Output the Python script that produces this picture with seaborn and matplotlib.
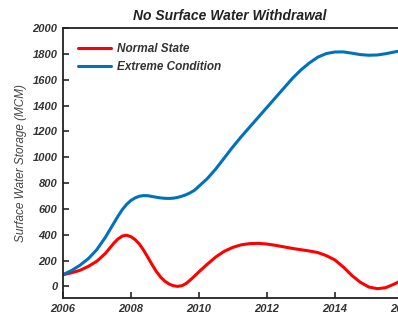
import matplotlib
matplotlib.use("Agg")
import matplotlib.pyplot as plt
import seaborn as sns
import pandas as pd

years = [2006.0, 2006.25, 2006.5, 2006.75, 2007.0, 2007.25, 2007.5, 2007.625, 2007.75, 2007.875,
         2008.0, 2008.125, 2008.25, 2008.375, 2008.5, 2008.625, 2008.75, 2008.875, 2009.0,
         2009.125, 2009.25, 2009.375, 2009.5, 2009.625, 2009.75, 2009.875, 2010.0, 2010.25,
         2010.5, 2010.75, 2011.0, 2011.25, 2011.5, 2011.75, 2012.0, 2012.25, 2012.5, 2012.75,
         2013.0, 2013.25, 2013.5, 2013.75, 2014.0, 2014.25, 2014.5, 2014.75, 2015.0, 2015.25,
         2015.5, 2015.75, 2016.0]
normal_state = [90, 105, 124, 155, 195, 255, 335, 368, 390, 396,
                385, 362, 328, 280, 225, 168, 115, 72, 40,
                18, 5, 0, 5, 22, 50, 80, 112, 172,
                228, 272, 302, 322, 331, 333, 328, 318, 306, 294,
                284, 274, 262, 238, 205, 150, 85, 32, -5, -18,
                -10, 18, 50]
extreme_condition = [90, 122, 163, 215, 285, 380, 490, 545, 595, 635,
                     665, 685, 698, 703, 702, 696, 690, 685, 682,
                     681, 683, 689, 698, 710, 725, 745, 775, 835,
                     910, 995, 1080, 1160, 1235, 1310, 1385, 1460, 1535, 1610,
                     1675, 1730, 1775, 1803, 1815, 1816, 1806, 1795, 1790, 1792,
                     1802, 1815, 1828]
xticks = [2006, 2008, 2010, 2012, 2014, 2016]
yticks = [0, 200, 400, 600, 800, 1000, 1200, 1400, 1600, 1800, 2000]

df = pd.DataFrame({
    "Year": years * 2,
    "Storage": normal_state + extreme_condition,
    "Scenario": ["Normal State"] * len(years) + ["Extreme Condition"] * len(years),
})

sns.set_theme(style="ticks")
plt.rcParams["font.family"] = ["Liberation Sans", "DejaVu Sans"]

fig = plt.figure(figsize=(3.98, 3.16), dpi=100)
ax = fig.add_axes([0.158, 0.057, 0.854, 0.854])
sns.lineplot(data=df, x="Year", y="Storage", hue="Scenario",
             palette={"Normal State": "#ff0000", "Extreme Condition": "#0072BD"},
             linewidth=2.2, ax=ax)
for ln in ax.get_lines():
    ln.set_solid_joinstyle("round")

ax.set_xlim(2006, 2016)
ax.set_ylim(-90, 2000)
ax.set_xticks(xticks)
ax.set_yticks(yticks)
ax.set_xticklabels([str(t) for t in xticks], fontsize=8, fontweight="bold", style="italic", color="#333333")
ax.set_yticklabels([str(t) for t in yticks], fontsize=8, fontweight="bold", style="italic", color="#333333")
ax.tick_params(direction="in", length=4, width=1.2, pad=4)
for s in ax.spines.values():
    s.set_linewidth(1.3)
    s.set_color("#222222")
ax.set_xlabel("")
ax.set_ylabel("Surface Water Storage (MCM)", fontsize=8.5, style="italic", color="#444444", labelpad=4)
ax.set_title("No Surface Water Withdrawal", fontsize=10, fontweight="bold", style="italic",
             color="#222222", pad=6, x=0.49)
leg = ax.legend(loc="upper left", frameon=False, fontsize=8.5, handlelength=2.8,
                handletextpad=0.5, borderaxespad=0.9, labelspacing=0.45,
                bbox_to_anchor=(0.0, 1.0))
for t in leg.get_texts():
    t.set_fontweight("bold")
    t.set_fontstyle("italic")
    t.set_color("#333333")

fig.savefig("out.png", dpi=100)
